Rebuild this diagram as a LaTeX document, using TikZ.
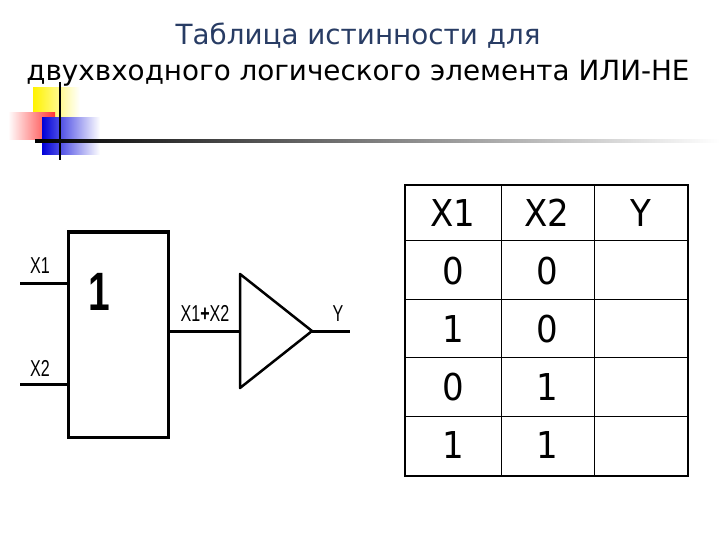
\documentclass[tikz,border=0pt]{standalone}
\usepackage{fontspec}
\setmainfont{Liberation Sans}
\newfontfamily\dv{DejaVu Sans}
\begin{document}
\begin{tikzpicture}[x=1pt,y=-1pt,
  wire/.style={line width=3pt},
  lbl/.style={font=\fontsize{23}{23}\selectfont, xscale=0.7, inner sep=0},
  cell/.style={font=\dv\fontsize{37}{37}\selectfont, inner sep=0, xscale=0.92}]
\useasboundingbox (0,0) rectangle (720,540);
% title
\node[text={rgb,255:red,40;green,60;blue,100}, font=\dv\fontsize{27.8}{27.8}\selectfont] (t1) at (358,36) {Таблица истинности для};
\node[font=\dv\fontsize{27.8}{27.8}\selectfont] (t2) at (358,73) {двухвходного логического элемента ИЛИ-НЕ};
% decoration
\shade[left color=yellow!90!orange, right color=white] (33,88) rectangle (80,118);
\shade[left color=white, right color=red!80] (8,113) rectangle (55,140);
\shade[left color=blue!85!black, right color=white] (42,118) rectangle (100,155);
\draw[line width=2pt] (60,82) -- (60,160);
\shade[left color=black, right color=white] (35,140) rectangle (720,143);
% gate
\draw[wire] (68,232) rectangle (168,437);
\node[font=\bfseries\fontsize{54}{54}\selectfont, xscale=0.72] (one) at (99,292) {1};
\coordinate (i1) at (20,283); \coordinate (i2) at (20,384);
\draw[wire] (i1) -- (68,283); \draw[wire] (i2) -- (68,384);
\node[lbl] (lx1) at (40,266) {X1};
\node[lbl] (lx2) at (40,368) {X2};
\coordinate (o) at (168,331);
\draw[line width=2.5pt, line join=round] (240,274) -- (312,331) -- (240,388) -- cycle;
\draw[wire] (o) -- (240,331);
\node[lbl] (lsum) at (205,313) {X1\textbf{+}X2};
\coordinate (y) at (350,331);
\draw[wire] (312,331) -- (y);
\node[lbl] (ly) at (338,314) {Y};
% table
\draw[line width=1.4pt] (405,185) rectangle (688,476);
\foreach \xx in {501,594} \draw[line width=0.8pt] (\xx,185) -- (\xx,476);
\foreach \yy in {240,299,357,416} \draw[line width=0.8pt] (405,\yy) -- (688,\yy);
\node[cell] (h1) at (453,213) {X1};
\node[cell] (h2) at (547,213) {X2};
\node[cell] (h3) at (641,213) {Y};
\node[cell] (a1) at (453,271) {0}; \node[cell] (b1) at (547,271) {0};
\node[cell] (a2) at (453,329) {1}; \node[cell] (b2) at (547,329) {0};
\node[cell] (a3) at (453,387) {0}; \node[cell] (b3) at (547,387) {1};
\node[cell] (a4) at (453,445) {1}; \node[cell] (b4) at (547,445) {1};
\end{tikzpicture}
\end{document}
